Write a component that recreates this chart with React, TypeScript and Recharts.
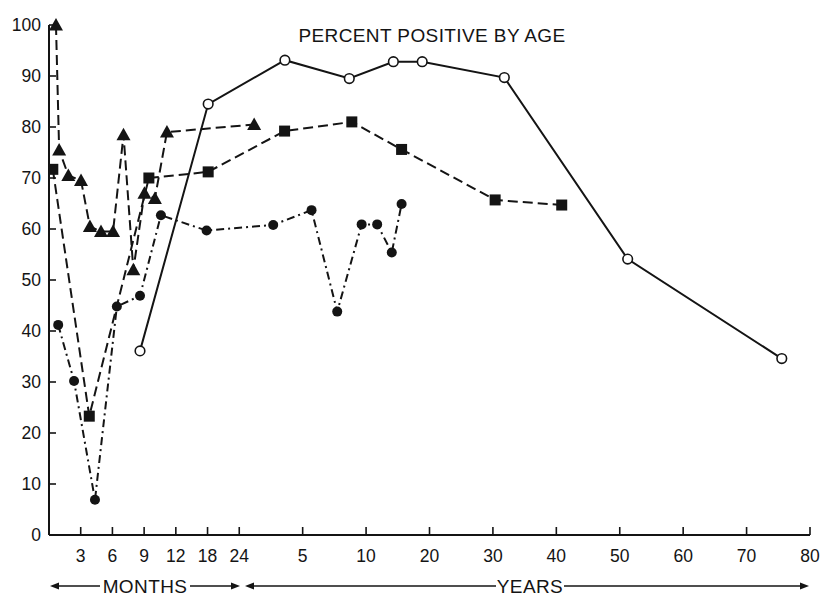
import React from 'react';
import { LineChart, Line, XAxis, YAxis } from 'recharts';

// X axis is in "scale units": months 3..24 at 1..6, years 5..80 at 8..24
const xTickValues = [1, 2, 3, 4, 5, 6, 8, 10, 12, 14, 16, 18, 20, 22, 24];
const xTickLabels = ['3', '6', '9', '12', '18', '24', '5', '10', '20', '30', '40', '50', '60', '70', '80'];
const yTickValues = [0, 10, 20, 30, 40, 50, 60, 70, 80, 90, 100];

// Filled triangles (dashed)
const triangleX = [0.22, 0.32, 0.61, 1.01, 1.29, 1.64, 2.02, 2.35, 2.66, 3.01, 3.34, 3.72, 6.47];
const triangleY = [100, 75.5, 70.5, 69.5, 60.5, 59.5, 59.5, 78.5, 52, 67, 66, 79, 80.5];

// Filled squares (dashed)
const squareX = [0.12, 1.27, 3.15, 5.02, 7.43, 9.55, 11.12, 14.07, 16.17];
const squareY = [71.7, 23.3, 70, 71.2, 79.2, 81, 75.6, 65.7, 64.7];

// Filled circles (dash-dot)
const dotX = [0.29, 0.79, 1.45, 2.14, 2.87, 3.53, 4.97, 7.07, 8.28, 9.09, 9.86, 10.35, 10.81, 11.12];
const dotY = [41.2, 30.2, 6.9, 44.8, 46.9, 62.7, 59.7, 60.8, 63.7, 43.8, 60.9, 60.9, 55.4, 64.9];

// Open circles (solid)
const openX = [2.87, 5.02, 7.44, 9.47, 10.86, 11.77, 14.36, 18.25, 23.11];
const openY = [36.1, 84.5, 93.1, 89.5, 92.8, 92.8, 89.7, 54.1, 34.6];

const title = 'PERCENT POSITIVE BY AGE';
const monthsLabel = 'MONTHS';
const yearsLabel = 'YEARS';

const toPoints = (xs: number[], ys: number[]) => xs.map((x, i) => ({ x, y: ys[i] }));

const triData = toPoints(triangleX, triangleY);
const sqData = toPoints(squareX, squareY);
const dotData = toPoints(dotX, dotY);
const openData = toPoints(openX, openY);

const INK = '#141414';
const FONT = '"Liberation Sans", Arial, Helvetica, sans-serif';

const TriangleDot = (p: any) => {
  const { cx, cy, index } = p;
  if (cx == null || cy == null) return <g key={`t${index}`} />;
  return (
    <polygon
      key={`t${index}`}
      points={`${cx},${cy - 7} ${cx - 7},${cy + 5.5} ${cx + 7},${cy + 5.5}`}
      fill={INK}
    />
  );
};

const SquareDot = (p: any) => {
  const { cx, cy, index } = p;
  if (cx == null || cy == null) return <g key={`s${index}`} />;
  return <rect key={`s${index}`} x={cx - 5.5} y={cy - 5.5} width={11} height={11} fill={INK} />;
};

const FilledDot = (p: any) => {
  const { cx, cy, index } = p;
  if (cx == null || cy == null) return <g key={`c${index}`} />;
  return <circle key={`c${index}`} cx={cx} cy={cy} r={5} fill={INK} />;
};

const OpenDot = (p: any) => {
  const { cx, cy, index } = p;
  if (cx == null || cy == null) return <g key={`o${index}`} />;
  return <circle key={`o${index}`} cx={cx} cy={cy} r={4.8} fill="#fff" stroke={INK} strokeWidth={1.6} />;
};

const YTick = (p: any) => {
  const { x, y, payload } = p;
  return (
    <g>
      {payload.value !== 0 && (
        <line x1={x} y1={y} x2={x + 7} y2={y} stroke={INK} strokeWidth={1.6} />
      )}
      <text
        x={x - 8}
        y={y}
        dy="0.36em"
        textAnchor="end"
        fontFamily={FONT}
        fontSize={17.5}
        fill={INK}
      >
        {payload.value}
      </text>
    </g>
  );
};

const XTick = (p: any) => {
  const { x, y, payload } = p;
  const idx = xTickValues.indexOf(payload.value);
  const label = idx >= 0 ? xTickLabels[idx] : '';
  return (
    <g>
      <line x1={x} y1={y} x2={x} y2={y - 8} stroke={INK} strokeWidth={1.6} />
      <text x={x} y={y + 27} textAnchor="middle" fontFamily={FONT} fontSize={17.5} fill={INK}>
        {label}
      </text>
    </g>
  );
};

const Arrow = ({ x1, x2, y }: { x1: number; x2: number; y: number }) => {
  const dir = x2 > x1 ? 1 : -1;
  return (
    <g>
      <line x1={x1} y1={y} x2={x2 - dir * 6} y2={y} stroke={INK} strokeWidth={1.6} />
      <polygon points={`${x2},${y} ${x2 - dir * 9},${y - 3.5} ${x2 - dir * 9},${y + 3.5}`} fill={INK} />
    </g>
  );
};

export default function App() {
  const arrowY = 586;
  return (
    <div style={{ position: 'absolute', left: 0, top: 0, width: 821, height: 596, background: '#fff' }}>
      <LineChart
        width={821}
        height={596}
        margin={{ top: 25, right: 11, bottom: 31, left: 0 }}
        style={{ position: 'absolute', left: 0, top: 0 }}
      >
        <XAxis
          type="number"
          dataKey="x"
          domain={[0, 24]}
          ticks={xTickValues}
          interval={0}
          height={30}
          tickSize={0}
          tickMargin={0}
          tickLine={false}
          tick={<XTick />}
          axisLine={{ stroke: INK, strokeWidth: 2 }}
          allowDataOverflow
        />
        <YAxis
          type="number"
          domain={[0, 100]}
          ticks={yTickValues}
          interval={0}
          width={49}
          tickSize={0}
          tickMargin={0}
          tickLine={false}
          tick={<YTick />}
          axisLine={{ stroke: INK, strokeWidth: 2 }}
        />
        <Line
          data={openData}
          dataKey="y"
          stroke={INK}
          strokeWidth={2}
          dot={OpenDot}
          activeDot={false}
          isAnimationActive={false}
          type="linear"
        />
        <Line
          data={sqData}
          dataKey="y"
          stroke={INK}
          strokeWidth={2}
          strokeDasharray="10 5"
          dot={SquareDot}
          activeDot={false}
          isAnimationActive={false}
          type="linear"
        />
        <Line
          data={dotData}
          dataKey="y"
          stroke={INK}
          strokeWidth={2}
          strokeDasharray="8 4 2 4"
          dot={FilledDot}
          activeDot={false}
          isAnimationActive={false}
          type="linear"
        />
        <Line
          data={triData}
          dataKey="y"
          stroke={INK}
          strokeWidth={2}
          strokeDasharray="10 5"
          dot={TriangleDot}
          activeDot={false}
          isAnimationActive={false}
          type="linear"
        />
      </LineChart>
      <svg
        width={821}
        height={596}
        style={{ position: 'absolute', left: 0, top: 0, pointerEvents: 'none' }}
      >
        <text x={432} y={42} textAnchor="middle" fontFamily={FONT} fontSize={19} letterSpacing={0.4} fill={INK}>
          {title}
        </text>
        <Arrow x1={100} x2={50} y={arrowY} />
        <Arrow x1={190} x2={240} y={arrowY} />
        <text x={145} y={arrowY + 7} textAnchor="middle" fontFamily={FONT} fontSize={19} letterSpacing={0.4} fill={INK}>
          {monthsLabel}
        </text>
        <Arrow x1={496} x2={245} y={arrowY} />
        <Arrow x1={564} x2={809} y={arrowY} />
        <text x={530} y={arrowY + 7} textAnchor="middle" fontFamily={FONT} fontSize={19} letterSpacing={0.4} fill={INK}>
          {yearsLabel}
        </text>
      </svg>
    </div>
  );
}
